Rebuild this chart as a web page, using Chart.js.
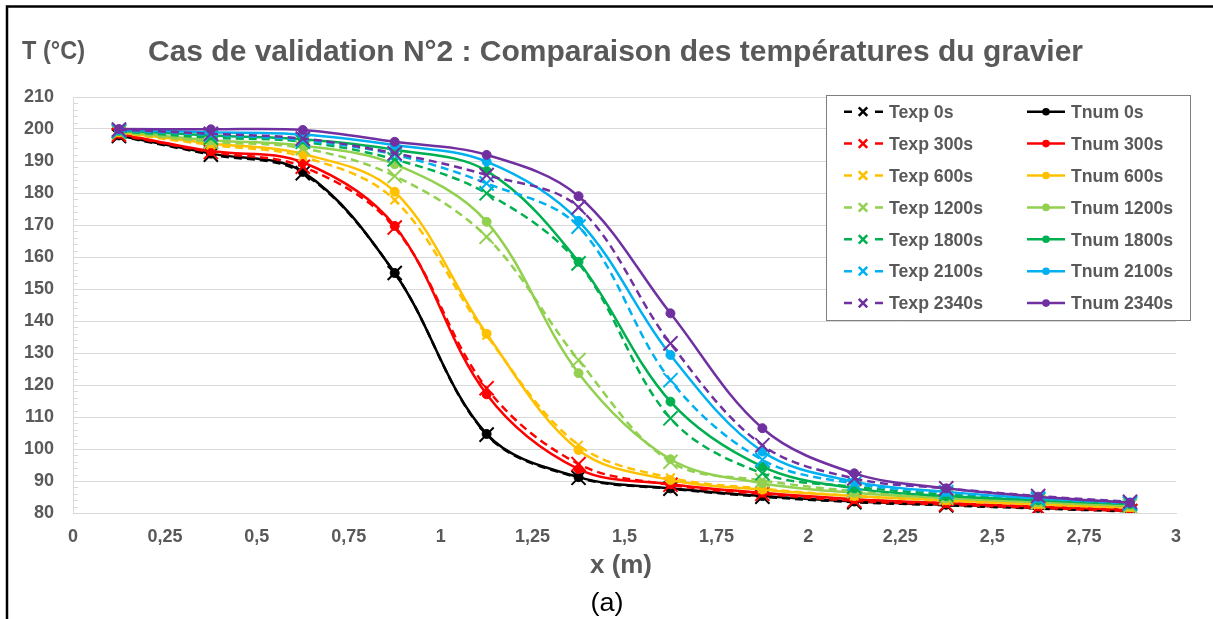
<!DOCTYPE html>
<html><head><meta charset="utf-8">
<script src="https://cdn.jsdelivr.net/npm/chart.js@4.4.0/dist/chart.umd.min.js"></script>
<style>html,body{margin:0;padding:0;background:#fff;overflow:hidden}#wrap{width:1213px;height:619px;position:relative}</style>
</head><body><div id="wrap"><canvas id="c" width="1213" height="619"></canvas></div>
<script>
// ---- data ----
const xPositions = [0.125, 0.375, 0.625, 0.875, 1.125, 1.375, 1.625, 1.875, 2.125, 2.375, 2.625, 2.875];
const timeLabels = ['0s', '300s', '600s', '1200s', '1800s', '2100s', '2340s'];
const xTickLabels = ['0', '0,25', '0,5', '0,75', '1', '1,25', '1,5', '1,75', '2', '2,25', '2,5', '2,75', '3'];

const texp0s    = [197.8, 192.0, 186.2, 155.0, 104.5, 91.0, 87.6, 85.1, 83.4, 82.4, 81.4, 80.5];
const tnum0s    = [198.0, 192.3, 186.6, 155.0, 104.7, 91.2, 87.7, 85.3, 83.6, 82.6, 81.6, 80.7];
const texp300s  = [198.2, 192.8, 188.2, 169.2, 119.0, 95.3, 88.8, 86.0, 83.8, 82.7, 81.6, 80.6];
const tnum300s  = [198.5, 193.1, 189.6, 169.7, 117.1, 93.7, 89.0, 86.3, 84.3, 83.1, 82.0, 81.0];
const texp600s  = [198.8, 195.0, 191.3, 177.8, 135.5, 101.2, 91.0, 87.6, 85.3, 83.8, 82.6, 81.6];
const tnum600s  = [199.0, 195.5, 192.2, 180.4, 136.0, 99.7, 90.3, 87.3, 85.3, 84.0, 82.8, 81.8];
const texp1200s = [199.0, 196.0, 194.0, 185.3, 166.3, 127.8, 96.0, 90.2, 86.8, 84.8, 83.4, 82.2];
const tnum1200s = [199.3, 196.5, 194.8, 189.0, 171.0, 123.7, 96.8, 89.3, 86.3, 84.6, 83.4, 82.3];
const texp1800s = [199.3, 197.3, 196.0, 190.5, 179.9, 158.0, 109.6, 92.4, 88.2, 85.8, 84.2, 82.9];
const tnum1800s = [199.5, 198.0, 196.8, 193.5, 186.9, 158.5, 114.8, 94.5, 87.7, 85.3, 84.0, 82.8];
const texp2100s = [199.5, 198.2, 196.5, 192.0, 183.0, 169.5, 121.5, 96.6, 89.2, 86.5, 84.5, 83.0];
const tnum2100s = [199.7, 199.0, 198.3, 195.0, 189.8, 171.3, 129.4, 99.2, 89.8, 86.6, 84.6, 83.3];
const texp2340s = [199.8, 198.5, 197.0, 192.4, 185.6, 175.5, 133.0, 101.2, 90.8, 87.7, 85.3, 83.5];
const tnum2340s = [200.0, 199.9, 199.7, 196.0, 191.9, 179.0, 142.4, 106.5, 92.4, 87.7, 85.1, 83.2];

const expSeries = [texp0s, texp300s, texp600s, texp1200s, texp1800s, texp2100s, texp2340s];
const numSeries = [tnum0s, tnum300s, tnum600s, tnum1200s, tnum1800s, tnum2100s, tnum2340s];
const seriesColors = ['#000000', '#FF0000', '#FFC000', '#92D050', '#00B050', '#00B0F0', '#7030A0'];

const FONT = '"Liberation Sans", Arial, Helvetica, sans-serif';
const GRAY = '#595959';

// ---- datasets ----
const datasets = [];
timeLabels.forEach((t, i) => {
  const c = seriesColors[i];
  datasets.push({
    label: 'Texp ' + t, kind: 'exp',
    data: xPositions.map((x, k) => ({x: x, y: expSeries[i][k]})),
    borderColor: c, backgroundColor: c, borderWidth: 2.5, borderDash: [8, 5],
    pointStyle: 'crossRot', pointRadius: i === 2 ? 6 : 10, pointBorderWidth: 2,
    pointBorderColor: c, pointBackgroundColor: c,
    tension: 0.35, fill: false, order: 100 - 2 * i
  });
  datasets.push({
    label: 'Tnum ' + t, kind: 'num',
    data: xPositions.map((x, k) => ({x: x, y: numSeries[i][k]})),
    borderColor: c, backgroundColor: c, borderWidth: 2.5,
    pointStyle: 'circle', pointRadius: 4.5, pointBorderWidth: 1,
    pointBorderColor: c, pointBackgroundColor: c,
    tension: 0.35, fill: false, order: 99 - 2 * i
  });
});

// draw text squeezed horizontally to a target width
function fitText(ctx, text, x, y, font, width, align) {
  ctx.font = font;
  const w = ctx.measureText(text).width;
  const s = width / w;
  ctx.save();
  let ox = x;
  if (align === 'center') ox = x - width / 2;
  ctx.translate(ox, y); ctx.scale(s, 1);
  ctx.textAlign = 'left'; ctx.fillText(text, 0, 0);
  ctx.restore();
}

const decor = {
  id: 'decor',
  beforeDatasetsDraw(chart) {
    const ctx = chart.ctx, y = chart.scales.y, a = chart.chartArea;
    ctx.save();
    ctx.strokeStyle = '#d9d9d9'; ctx.lineWidth = 1;
    for (let v = 80; v <= 210; v += 2) {
      if (v % 10 === 0) continue;
      const py = Math.round(y.getPixelForValue(v)) + 0.5;
      ctx.beginPath(); ctx.moveTo(a.left, py); ctx.lineTo(a.left + 5, py); ctx.stroke();
    }
    ctx.restore();
  },
  afterDraw(chart) {
    const ctx = chart.ctx;
    ctx.save();
    // frame
    ctx.strokeStyle = '#000'; ctx.lineWidth = 2.5;
    ctx.beginPath(); ctx.moveTo(7, 619); ctx.lineTo(7, 6.5); ctx.lineTo(1213, 6.5); ctx.stroke();
    // titles
    ctx.fillStyle = GRAY; ctx.textBaseline = 'middle';
    fitText(ctx, 'Cas de validation N°2 : Comparaison des températures du gravier', 148, 53, 'bold 29px ' + FONT, 935, 'left');
    fitText(ctx, 'T (°C)', 22, 52, 'bold 25px ' + FONT, 63, 'left');
    fitText(ctx, 'x (m)', 621, 566, 'bold 26px ' + FONT, 62, 'center');
    ctx.fillStyle = '#000';
    fitText(ctx, '(a)', 607, 604, '26px ' + FONT, 33, 'center');
    // legend
    const lx = 826, ly = 95, lw = 364, lh = 225;
    ctx.fillStyle = '#fff'; ctx.fillRect(lx, ly, lw, lh);
    ctx.strokeStyle = '#7f7f7f'; ctx.lineWidth = 1;
    ctx.strokeRect(lx + 0.5, ly + 0.5, lw, lh);
    ctx.textBaseline = 'middle';
    ctx.font = 'bold 19px ' + FONT;
    const refW = ctx.measureText('Texp 2340s').width;
    const sq = 94 / refW;
    chart.data.datasets.forEach((ds, idx) => {
      const row = Math.floor(idx / 2);
      const ry = 111.7 + row * 31.9;
      const c = ds.borderColor;
      ctx.strokeStyle = c; ctx.lineWidth = 2.5;
      let tx;
      if (ds.kind === 'exp') {
        ctx.beginPath(); ctx.moveTo(844, ry); ctx.lineTo(852, ry); ctx.moveTo(875, ry); ctx.lineTo(883, ry); ctx.stroke();
        Chart.helpers.drawPoint(ctx, {pointStyle: 'crossRot', radius: 6, borderWidth: 2}, 863, ry);
        tx = 889;
      } else {
        ctx.beginPath(); ctx.moveTo(1027, ry); ctx.lineTo(1065, ry); ctx.stroke();
        ctx.fillStyle = c;
        ctx.beginPath(); ctx.arc(1046, ry, 3.8, 0, Math.PI * 2); ctx.fill();
        tx = 1071;
      }
      ctx.fillStyle = GRAY;
      ctx.font = 'bold 19px ' + FONT;
      const w = ctx.measureText(ds.label).width * sq;
      fitText(ctx, ds.label, tx, ry + 1, 'bold 19px ' + FONT, w, 'left');
    });
    ctx.restore();
  }
};

new Chart(document.getElementById('c'), {
  type: 'line',
  data: {datasets: datasets},
  options: {
    responsive: false, animation: false, devicePixelRatio: 1,
    layout: {padding: {left: 0, right: 37, top: 97, bottom: 0}},
    plugins: {legend: {display: false}, tooltip: {enabled: false}, title: {display: false}},
    scales: {
      x: {
        type: 'linear', min: 0, max: 3,
        afterBuildTicks: (s) => { s.ticks = xTickLabels.map((l, i) => ({value: i * 0.25})); },
        ticks: {
          autoSkip: false, maxRotation: 0, padding: 13, color: GRAY,
          font: {family: FONT, size: 18, weight: 'bold'},
          callback: (v, i) => xTickLabels[i]
        },
        grid: {display: false, drawTicks: false},
        border: {display: true, color: '#d9d9d9'},
        afterFit: (s) => { s.height = 106; }
      },
      y: {
        min: 80, max: 210,
        ticks: {stepSize: 10, padding: 19, color: GRAY, font: {family: FONT, size: 18, weight: 'bold'}},
        grid: {color: '#d9d9d9', lineWidth: 1, drawTicks: false},
        border: {display: true, color: '#d9d9d9'},
        afterFit: (s) => { s.width = 73; }
      }
    }
  },
  plugins: [decor]
});
</script>
</body></html>
